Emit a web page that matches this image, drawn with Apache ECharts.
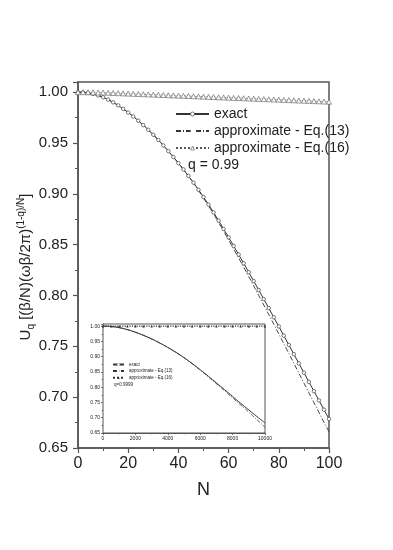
<!DOCTYPE html>
<html>
<head>
<meta charset="utf-8">
<script src="https://cdn.jsdelivr.net/npm/echarts@6/dist/echarts.min.js"></script>
<style>
  html, body { margin: 0; padding: 0; background: #fff; }
  #main { width: 393px; height: 550px; }
</style>
</head>
<body>
<div id="main"></div>
<script>
// main plot, q = 0.99, N step 2
var nMain = [0, 2, 4, 6, 8, 10, 12, 14, 16, 18, 20, 22, 24, 26, 28, 30, 32, 34, 36, 38, 40,
    42, 44, 46, 48, 50, 52, 54, 56, 58, 60, 62, 64, 66, 68, 70, 72, 74, 76, 78, 80,
    82, 84, 86, 88, 90, 92, 94, 96, 98, 100];
var exactMain = [1.0000, 0.9998, 0.9992, 0.9982, 0.9968, 0.9950, 0.9927, 0.9900, 0.9870, 0.9836, 0.9800,
    0.9761, 0.9720, 0.9676, 0.9630, 0.9581, 0.9530, 0.9476, 0.9420, 0.9362, 0.9302,
    0.9240, 0.9176, 0.9110, 0.9040, 0.8968, 0.8894, 0.8817, 0.8737, 0.8655, 0.8572,
    0.8488, 0.8403, 0.8317, 0.8230, 0.8142, 0.8054, 0.7965, 0.7876, 0.7786, 0.7696,
    0.7605, 0.7514, 0.7423, 0.7332, 0.7241, 0.7150, 0.7059, 0.6968, 0.6877, 0.6786];
var eq13Main = [1.0000, 0.9998, 0.9992, 0.9982, 0.9968, 0.9950, 0.9927, 0.9900, 0.9870, 0.9836, 0.9800,
    0.9761, 0.9720, 0.9676, 0.9630, 0.9581, 0.9530, 0.9476, 0.9420, 0.9362, 0.9302,
    0.9239, 0.9173, 0.9105, 0.9034, 0.8958, 0.8882, 0.8803, 0.8718, 0.8633, 0.8546,
    0.8458, 0.8370, 0.8280, 0.8188, 0.8095, 0.8001, 0.7907, 0.7813, 0.7718, 0.7622,
    0.7526, 0.7430, 0.7333, 0.7236, 0.7140, 0.7043, 0.6946, 0.6850, 0.6753, 0.6660];
var eq16Main = [1.0000, 1.0000, 0.9999, 0.9998, 0.9997, 0.9996, 0.9994, 0.9992, 0.9990, 0.9988, 0.9986,
    0.9984, 0.9982, 0.9980, 0.9978, 0.9976, 0.9974, 0.9972, 0.9970, 0.9968, 0.9966,
    0.9964, 0.9962, 0.9960, 0.9958, 0.9956, 0.9954, 0.9952, 0.9950, 0.9948, 0.9946,
    0.9944, 0.9942, 0.9940, 0.9938, 0.9936, 0.9934, 0.9932, 0.9930, 0.9928, 0.9926,
    0.9924, 0.9922, 0.9920, 0.9918, 0.9916, 0.9914, 0.9912, 0.9910, 0.9908, 0.9906];

// inset, q = 0.9999, N step 500
var nInset = [0, 500, 1000, 1500, 2000, 2500, 3000, 3500, 4000, 4500, 5000,
    5500, 6000, 6500, 7000, 7500, 8000, 8500, 9000, 9500, 10000];
var exactInset = [1.000, 0.9987, 0.9950, 0.9886, 0.9800, 0.9698, 0.9581, 0.9448, 0.9302, 0.9143, 0.8968,
    0.8777, 0.8572, 0.8360, 0.8142, 0.7920, 0.7696, 0.7470, 0.7255, 0.7040, 0.6830];
var eq13Inset = [1.000, 0.9987, 0.9950, 0.9886, 0.9800, 0.9698, 0.9581, 0.9448, 0.9302, 0.9143, 0.8968,
    0.8770, 0.8560, 0.8340, 0.8115, 0.7885, 0.7655, 0.7420, 0.7180, 0.6935, 0.6690];
var eq16Inset = [1.000, 1.000, 1.000, 1.000, 1.000, 1.000, 1.000, 1.000, 1.000, 1.000, 1.000,
    1.000, 1.000, 1.000, 1.000, 1.000, 1.000, 1.000, 1.000, 1.000, 1.000];

var yRangeMain = [0.65, 1.01];
var xRangeMain = [0, 100];
var yRangeInset = [0.65, 1.007];
var xRangeInset = [0, 10000];

function pairs(xs, ys) {
    return xs.map(function (x, i) { return [x, ys[i]]; });
}

var ink = '#222';
var frame = '#555';
var font = 'Liberation Sans, Arial, sans-serif';

var myChart = echarts.init(document.getElementById('main'));

function axisCommon(size, tickLen, minorLen) {
    return {
        type: 'value',
        axisLine: { show: true, onZero: false, lineStyle: { color: frame, width: 1.5 } },
        axisTick: { show: true, inside: false, length: tickLen, lineStyle: { color: frame, width: 1.2 } },
        minorTick: { show: true, splitNumber: 2, length: minorLen, lineStyle: { color: frame, width: 1 } },
        splitLine: { show: false },
        axisLabel: { color: ink, fontSize: size, fontFamily: font }
    };
}

var xMain = axisCommon(16, 5, 3);
xMain.gridIndex = 0;
xMain.min = xRangeMain[0];
xMain.max = xRangeMain[1];
xMain.interval = 20;
xMain.axisLabel.margin = 8;
xMain.name = 'N';
xMain.nameLocation = 'middle';
xMain.nameGap = 33;
xMain.nameTextStyle = { color: ink, fontSize: 18, fontFamily: font };

var yMain = axisCommon(15, 5, 3);
yMain.gridIndex = 0;
yMain.min = yRangeMain[0];
yMain.max = yRangeMain[1];
yMain.interval = 0.05;
yMain.axisLabel.margin = 10;
yMain.axisLabel.showMaxLabel = false;
yMain.axisLabel.formatter = function (v) { return v.toFixed(2); };
yMain.name = '{m|U}{sub|q}{m| [(β/N)(ωβ/2π)}{sup|(1-q)/N}{m|]}';
yMain.nameLocation = 'middle';
yMain.nameRotate = 90;
yMain.nameGap = 42;
yMain.nameMoveOverlap = false;
yMain.nameTextStyle = {
    color: ink, fontFamily: font, padding: [0, 4, 0, 0],
    rich: {
        m: { fontSize: 15, fontFamily: font, color: ink, lineHeight: 20, verticalAlign: 'middle' },
        sub: { fontSize: 10, fontFamily: font, color: ink, lineHeight: 20, verticalAlign: 'bottom' },
        sup: { fontSize: 10, fontFamily: font, color: ink, lineHeight: 20, verticalAlign: 'top' }
    }
};

var xIn = axisCommon(5, 2, 1.2);
xIn.gridIndex = 1;
xIn.min = xRangeInset[0];
xIn.max = xRangeInset[1];
xIn.interval = 2000;
xIn.axisLabel.margin = 3;
xIn.axisLabel.formatter = function (v) { return String(v); };
xIn.axisLine.lineStyle.width = 1;
xIn.axisTick.lineStyle.width = 0.8;

var yIn = axisCommon(5, 2, 1.2);
yIn.gridIndex = 1;
yIn.min = yRangeInset[0];
yIn.max = yRangeInset[1];
yIn.interval = 0.05;
yIn.axisLabel.margin = 3;
yIn.axisLabel.showMaxLabel = false;
yIn.axisLabel.formatter = function (v) { return v.toFixed(2); };
yIn.axisLine.lineStyle.width = 1;
yIn.axisTick.lineStyle.width = 0.8;

var clear = 'rgba(0,0,0,0)';

var option = {
    animation: false,
    backgroundColor: '#fff',
    textStyle: { fontFamily: font },
    grid: [
        { left: 78, right: 64, top: 82, bottom: 102, show: true, borderColor: frame, borderWidth: 1.5, backgroundColor: '#fff' },
        { left: 103, right: 128, top: 324, bottom: 117, show: true, borderColor: frame, borderWidth: 1, backgroundColor: '#fff', z: 5 }
    ],
    xAxis: [xMain, xIn],
    yAxis: [yMain, yIn],
    legend: [
        {
            orient: 'vertical', left: 170, top: 102,
            itemWidth: 33, itemHeight: 5, itemGap: 3,
            textStyle: { color: ink, fontSize: 14, fontFamily: font, lineHeight: 14 },
            data: [
                { name: 'exact', itemStyle: { color: '#fff', borderColor: '#444', borderWidth: 0.7 } },
                { name: 'approximate - Eq.(13)' },
                { name: 'approximate - Eq.(16)', itemStyle: { color: '#fff', borderColor: '#555', borderWidth: 0.6 } }
            ]
        },
        {
            orient: 'vertical', left: 107, top: 357, z: 10,
            itemWidth: 11, itemHeight: 3, itemGap: 1.6,
            textStyle: { color: ink, fontSize: 4.5, fontFamily: font, lineHeight: 5 },
            formatter: function (name) { return name.replace(' (inset)', ''); },
            data: ['exact (inset)', 'approximate - Eq.(13) (inset)', 'approximate - Eq.(16) (inset)']
        }
    ],
    graphic: [
        { type: 'text', left: 188, top: 158, style: { text: 'q = 0.99', fill: ink, fontSize: 14, fontFamily: font } },
        { type: 'text', left: 114, top: 382, z: 20, style: { text: 'q=0.9999', fill: ink, fontSize: 4.5, fontFamily: font } }
    ],
    series: [
        {
            name: 'approximate - Eq.(13)', type: 'line', xAxisIndex: 0, yAxisIndex: 0,
            data: pairs(nMain, eq13Main), showSymbol: false,
            itemStyle: { color: clear },
            lineStyle: { color: '#333', width: 0.9, type: [5, 2, 1, 2] }
        },
        {
            name: 'exact', type: 'line', xAxisIndex: 0, yAxisIndex: 0,
            data: pairs(nMain, exactMain), symbol: 'circle', symbolSize: 3.5, showAllSymbol: true,
            itemStyle: { color: '#fff', borderColor: '#444', borderWidth: 0.7 },
            lineStyle: { color: '#333', width: 1 }
        },
        {
            name: 'approximate - Eq.(16)', type: 'line', xAxisIndex: 0, yAxisIndex: 0,
            data: pairs(nMain, eq16Main), symbol: 'triangle', symbolSize: 5, showAllSymbol: true,
            itemStyle: { color: '#fff', borderColor: '#555', borderWidth: 0.6 },
            lineStyle: { color: '#555', width: 0.8, type: 'dotted' }
        },
        {
            name: 'exact (inset)', type: 'line', xAxisIndex: 1, yAxisIndex: 1, z: 6,
            data: pairs(nInset, exactInset), showSymbol: false, smooth: true,
            itemStyle: { color: clear },
            lineStyle: { color: '#333', width: 1 }
        },
        {
            name: 'approximate - Eq.(13) (inset)', type: 'line', xAxisIndex: 1, yAxisIndex: 1, z: 6,
            data: pairs(nInset, eq13Inset), showSymbol: false, smooth: true,
            itemStyle: { color: clear },
            lineStyle: { color: '#333', width: 0.8, type: [4, 1.5, 1, 1.5] }
        },
        {
            name: 'approximate - Eq.(16) (inset)', type: 'line', xAxisIndex: 1, yAxisIndex: 1, z: 6,
            data: pairs(nInset, eq16Inset), symbol: 'triangle', symbolSize: 2.5, showAllSymbol: true,
            itemStyle: { color: '#333' },
            lineStyle: { color: '#333', width: 1.2, type: 'dotted' }
        }
    ]
};

myChart.setOption(option);
</script>
</body>
</html>
